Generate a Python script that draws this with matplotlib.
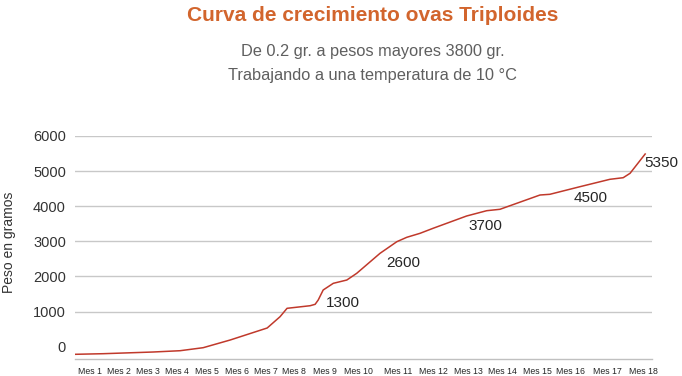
import numpy as np
import matplotlib.pyplot as plt

# --- datos ---
meses = [f"Mes {i}" for i in range(1, 19)]

# curva de peso (mes, gramos)
curva_mes = [0.5, 1.45, 3.17, 4.1, 4.87, 5.77, 7.04, 7.5, 7.75, 8.52, 8.68, 8.78, 8.94,
             9.25, 9.66, 9.96, 10.55, 10.97, 11.25, 11.63, 12.0, 12.96, 13.55, 13.94,
             15.09, 15.39, 16.27, 17.08, 17.45, 17.64, 18.06]
curva_peso = [-219, -202, -154, -117, -31, 188, 530, 852, 1091, 1165, 1205, 1328, 1613,
              1803, 1897, 2088, 2658, 2989, 3114, 3228, 3370, 3721, 3872, 3912,
              4319, 4339, 4556, 4766, 4812, 4937, 5487]

# etiquetas de valor
etiquetas = [1300, 2600, 3700, 4500, 5350]
etiqueta_mes = [9.55, 11.15, 13.5, 16.57, 18.52]
etiqueta_y = [1242, 2373, 3436, 4225, 5222]

# posicion (px) de cada etiqueta "Mes" en el original, meses 0..19
anchor_px = [61, 90, 119, 148, 177, 207, 237, 266, 294, 325, 358, 398, 433,
             468, 502, 537, 570, 607, 643, 679]
anchor_mes = np.arange(len(anchor_px))


def fwd(x):
    return np.interp(x, anchor_mes, anchor_px)


def inv(p):
    return np.interp(p, anchor_px, anchor_mes)


W, H = 682, 376
fig = plt.figure(figsize=(W / 100, H / 100), dpi=100)
ax = fig.add_axes([75 / W, 17 / H, 577 / W, 223 / H])
ax.set_xscale('function', functions=(fwd, inv))

ax.plot(curva_mes, curva_peso, color='#C0392B', lw=1.1)

for v, x, y in zip(etiquetas, etiqueta_mes, etiqueta_y):
    ax.text(x, y, str(v), ha='center', va='center', fontsize=11,
            color='#262626', family='Liberation Sans')

ax.set_xlim(0.48, 18.25)
ax.set_ylim(-353, 6000)
ax.set_yticks(range(0, 6001, 1000))
ax.set_xticks(range(1, 19))
ax.set_xticklabels(meses, fontsize=6.3, family='Liberation Sans', color='#262626')
for t in ax.get_yticklabels():
    t.set_fontsize(10.5)
    t.set_family('Liberation Sans')
    t.set_color('#333333')
ax.tick_params(axis='x', length=0, pad=5.5)
ax.tick_params(axis='y', length=0, pad=6.5)

ax.grid(axis='y', color='#c8c8c8', lw=1)
ax.get_ygridlines()[0].set_visible(False)
ax.set_axisbelow(True)
for s in ['left', 'top', 'right']:
    ax.spines[s].set_visible(False)
ax.spines['bottom'].set_color('#c0c0c0')
ax.spines['bottom'].set_linewidth(1)

fig.text(9 / W, 1 - 242 / H, 'Peso en gramos', rotation=90, ha='center', va='center',
         fontsize=10, color='#333333', family='Liberation Sans')

fig.text(373 / W, 1 - 21 / H, 'Curva de crecimiento ovas Triploides', ha='center',
         va='baseline', fontsize=15, fontweight='bold', color='#D2652D',
         family='Liberation Sans')
fig.text(373 / W, 1 - 56 / H, 'De 0.2 gr. a pesos mayores 3800 gr.', ha='center',
         va='baseline', fontsize=11.8, color='#5f5f5f', family='Liberation Sans')
fig.text(373 / W, 1 - 80 / H, 'Trabajando a una temperatura de 10 °C', ha='center',
         va='baseline', fontsize=11.8, color='#5f5f5f', family='Liberation Sans')

fig.savefig('out.png', dpi=100)
